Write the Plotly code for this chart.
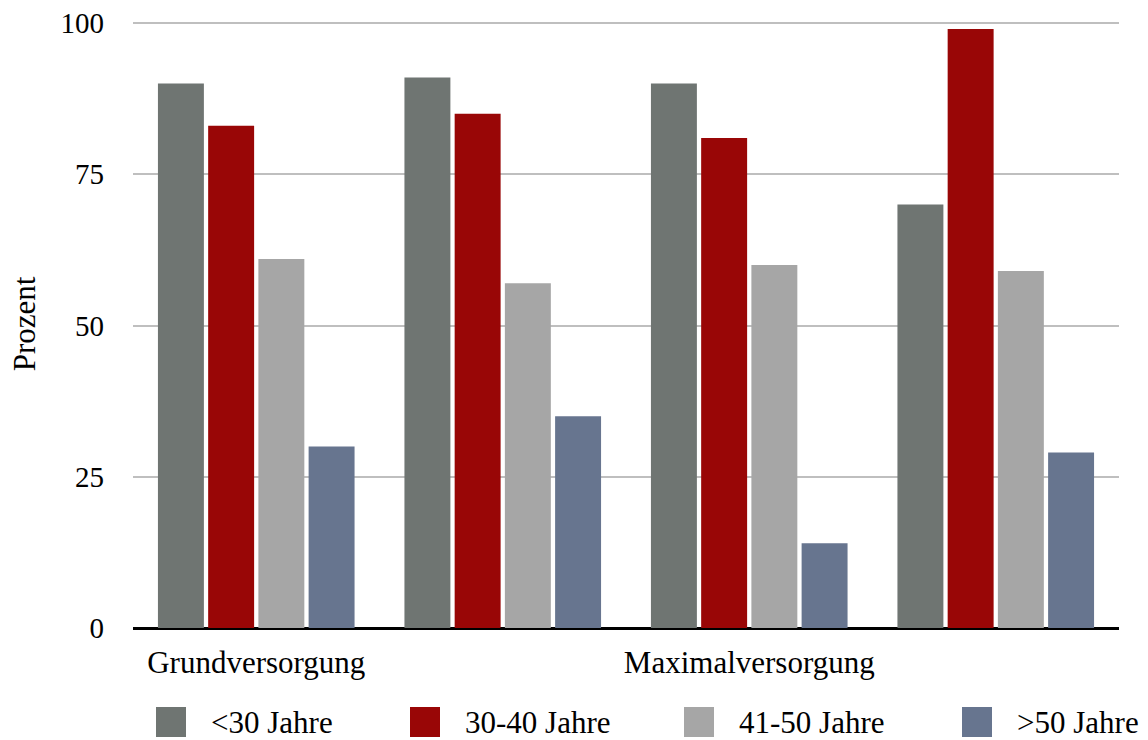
import plotly.graph_objects as go

# Age groups per hospital care level (percent)
groups = [0, 1, 2, 3]
group_tick_pos = [0, 2]
group_tick_text = ["Grundversorgung", "Maximalversorgung"]

series_names = ["<30 Jahre", "30-40 Jahre", "41-50 Jahre", ">50 Jahre"]
under_30 = [90, 91, 90, 70]
age_30_40 = [83, 85, 81, 99]
age_41_50 = [61, 57, 60, 59]
over_50 = [30, 35, 14, 29]
series_values = [under_30, age_30_40, age_41_50, over_50]

colors = ["#6f7572", "#990606", "#a6a6a6", "#67758f"]

y_ticks = [0, 25, 50, 75, 100]

FONT = "'Liberation Serif', 'Times New Roman', 'DejaVu Serif', serif"
W, H = 1148, 740
M_L, M_R, M_T, M_B = 133, 29, 20, 112
Y_MAX = 100.5

fig = go.Figure()
for name, vals, col in zip(series_names, series_values, colors):
    fig.add_trace(go.Bar(
        x=groups, y=vals, name=name,
        marker=dict(color=col, line=dict(width=0)),
        showlegend=False,
    ))

# Custom legend row with large square swatches
plot_w = W - M_L - M_R
plot_h = H - M_T - M_B


def px_x(px):
    return (px - M_L) / plot_w


def px_y(py):
    return (H - M_B - py) / plot_h


swatch_left = [156, 410, 684, 962]
swatch_size = 30
legend_center = 722
shapes = []
annotations = []
for name, col, left in zip(series_names, colors, swatch_left):
    shapes.append(dict(
        type="rect", xref="paper", yref="paper",
        x0=px_x(left), x1=px_x(left + swatch_size),
        y0=px_y(legend_center + swatch_size / 2), y1=px_y(legend_center - swatch_size / 2),
        fillcolor=col, line=dict(width=0),
    ))
    annotations.append(dict(
        xref="paper", yref="paper",
        x=px_x(left + swatch_size + 23), y=px_y(legend_center),
        xanchor="left", yanchor="middle",
        text=name, showarrow=False,
        font=dict(family=FONT, size=31, color="#000000"),
    ))

fig.update_layout(
    width=W, height=H,
    margin=dict(l=M_L, r=M_R, t=M_T, b=M_B, autoexpand=False),
    paper_bgcolor="#ffffff", plot_bgcolor="#ffffff",
    barmode="group", bargap=0.185, bargroupgap=0.085,
    font=dict(family=FONT, color="#000000"),
    shapes=shapes, annotations=annotations,
    showlegend=False,
)

fig.update_xaxes(
    range=[-0.5, 3.5], automargin=False,
    tickmode="array", tickvals=group_tick_pos, ticktext=group_tick_text,
    tickfont=dict(family=FONT, size=31, color="#000000"),
    ticks="", showgrid=False, zeroline=False, showline=False,
    ticklabelstandoff=13,
)

fig.update_yaxes(
    range=[0, Y_MAX], automargin=False,
    tickmode="array", tickvals=y_ticks,
    tickfont=dict(family=FONT, size=29, color="#000000"),
    showgrid=True, gridcolor="#bfbfbf", gridwidth=2,
    zeroline=True, zerolinecolor="#000000", zerolinewidth=3,
    showline=False, ticks="",
    ticklabelstandoff=28,
    title=dict(text="Prozent", font=dict(family=FONT, size=31, color="#000000"), standoff=15),
)

fig.write_html("out.html")
